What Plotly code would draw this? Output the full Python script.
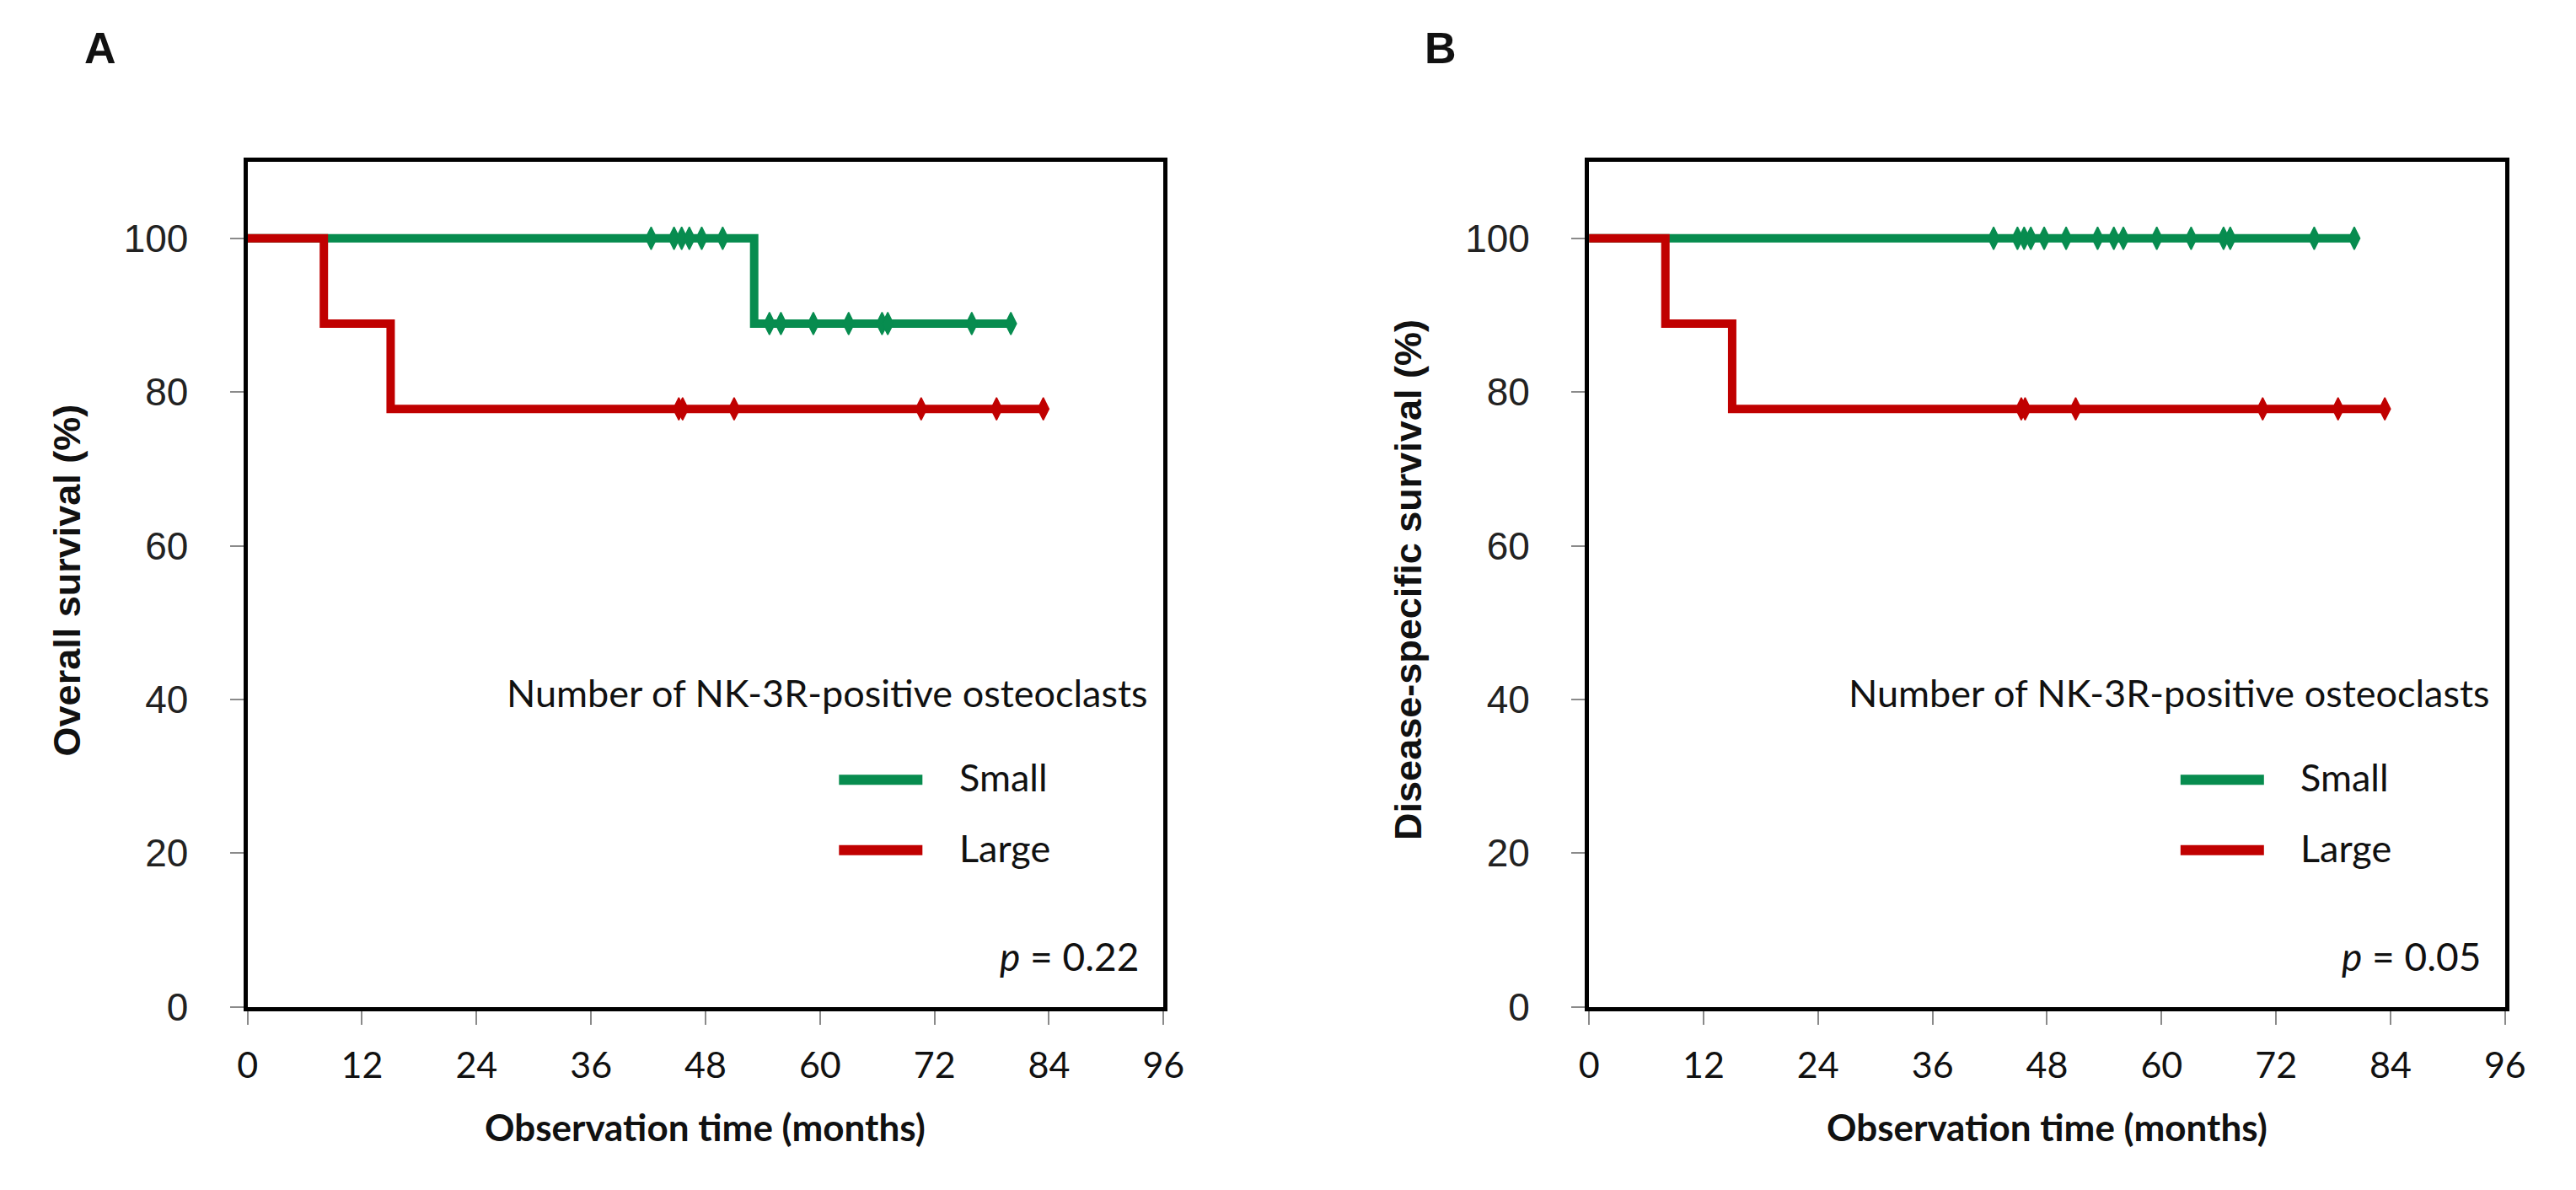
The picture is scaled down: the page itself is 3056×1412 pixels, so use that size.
import plotly.graph_objects as go

# ---------------- data ----------------
tick_x = [0, 12, 24, 36, 48, 60, 72, 84, 96]
tick_y = [0, 20, 40, 60, 80, 100]

# Panel A: overall survival
A_small_event_t = [53.1]
A_small_surv = [100, 88.9]
A_small_end = 80.0
A_small_cens = [42.3, 44.7, 45.5, 46.3, 47.6, 49.8,
                54.7, 55.9, 59.3, 63.0, 66.5, 67.1, 75.9, 80.0]

A_large_event_t = [8.0, 15.0]
A_large_surv = [100, 88.9, 77.8]
A_large_end = 83.4
A_large_cens = [45.2, 45.6, 51.0, 70.6, 78.5, 83.4]

# Panel B: disease-specific survival
B_small_event_t = []
B_small_surv = [100]
B_small_end = 80.2
B_small_cens = [42.4, 44.9, 45.6, 46.3, 47.7, 50.0, 53.3,
                55.0, 56.0, 59.5, 63.1, 66.5, 67.2, 76.0, 80.2]

B_large_event_t = [8.0, 15.0]
B_large_surv = [100, 88.9, 77.8]
B_large_end = 83.4
B_large_cens = [45.3, 45.7, 51.0, 70.6, 78.5, 83.4]

groups = ["Small", "Large"]
legend_title = "Number of NK-3R-positive osteoclasts"
p_values = ["0.22", "0.05"]
y_titles = ["Overall survival (%)", "Disease-specific survival (%)"]
x_title = "Observation time (months)"
panel_labels = ["A", "B"]

GREEN = "#078C4F"
RED = "#C00000"

CAL = "Lato"            # Calibri substitute
ARIAL = "Liberation Sans"

fig = go.Figure()


def step_xy(event_t, surv, end):
    xs = [0] + list(event_t) + [end]
    ys = list(surv) + [surv[-1]]
    return xs, ys


def surv_at(t, event_t, surv):
    s = surv[0]
    for i, et in enumerate(event_t):
        if t >= et:
            s = surv[i + 1]
    return s


def add_group(event_t, surv, end, cens, color, xa, ya, name):
    xs, ys = step_xy(event_t, surv, end)
    fig.add_trace(go.Scatter(x=xs, y=ys, mode="lines", line_shape="hv",
                             line=dict(color=color, width=10),
                             xaxis=xa, yaxis=ya, name=name, showlegend=False,
                             cliponaxis=False))
    fig.add_trace(go.Scatter(x=cens, y=[surv_at(t, event_t, surv) for t in cens],
                             mode="markers",
                             marker=dict(symbol="diamond-tall", size=19, color=color,
                                         line=dict(color=color, width=1.5)),
                             xaxis=xa, yaxis=ya, name=name + " censored",
                             showlegend=False, cliponaxis=False))


add_group(A_small_event_t, A_small_surv, A_small_end, A_small_cens, GREEN, "x", "y", "Small")
add_group(A_large_event_t, A_large_surv, A_large_end, A_large_cens, RED, "x", "y", "Large")
add_group(B_small_event_t, B_small_surv, B_small_end, B_small_cens, GREEN, "x2", "y2", "Small")
add_group(B_large_event_t, B_large_surv, B_large_end, B_large_cens, RED, "x2", "y2", "Large")

W, H = 3056, 1412
yb, yt = 1209, 187
xdomA = [277 / W, 1377 / W]
xdomB = [1888 / W, 2988 / W]
ydom = [1 - yb / H, 1 - yt / H]

axis_common = dict(showline=True, linecolor="black", linewidth=5, mirror=True,
                   showgrid=False, zeroline=False, ticks="outside", ticklen=16,
                   tickwidth=2, tickcolor="#8a8a8a")

xcfg = dict(axis_common, range=[0, 96], tickmode="array", tickvals=tick_x,
            ticktext=[str(v) for v in tick_x],
            tickfont=dict(family=CAL, size=43, color="#111"), ticklabelstandoff=12)
ycfg = dict(axis_common, range=[0, 110], tickmode="array", tickvals=tick_y,
            ticktext=[str(v) for v in tick_y],
            tickfont=dict(family=ARIAL, size=46, color="#222"), ticklabelstandoff=40)

fig.update_layout(
    width=W, height=H, autosize=False,
    margin=dict(l=0, r=0, t=0, b=0),
    paper_bgcolor="white", plot_bgcolor="white",
    showlegend=False,
    xaxis=dict(xcfg, domain=xdomA, anchor="y"),
    yaxis=dict(ycfg, domain=ydom, anchor="x"),
    xaxis2=dict(xcfg, domain=xdomB, anchor="y2"),
    yaxis2=dict(ycfg, domain=ydom, anchor="x2"),
)

annotations = []
shapes = []
panels = [("x", "y", xdomA), ("x2", "y2", xdomB)]
for i, (xa, ya, xd) in enumerate(panels):
    xr = xa + " domain"
    yr = ya + " domain"
    # legend title
    annotations.append(dict(xref=xr, yref=yr, x=0.985, y=0.372, xanchor="right",
                            yanchor="middle", showarrow=False, text=legend_title,
                            font=dict(family=CAL, size=45, color="#111")))
    # legend keys
    for g, col, yy in [(groups[0], GREEN, 0.2686), (groups[1], RED, 0.1853)]:
        shapes.append(dict(type="line", xref=xr, yref=yr, x0=0.6457, x1=0.7368,
                           y0=yy, y1=yy, line=dict(color=col, width=12)))
        annotations.append(dict(xref=xr, yref=yr, x=0.775, y=yy + 0.003,
                                xanchor="left", yanchor="middle", showarrow=False,
                                text=g, font=dict(family=CAL, size=45, color="#111")))
    # p value
    annotations.append(dict(xref=xr, yref=yr, x=0.975, y=0.06, xanchor="right",
                            yanchor="middle", showarrow=False,
                            text="<i>p</i> = " + p_values[i],
                            font=dict(family=CAL, size=46, color="#111")))
    # x title
    annotations.append(dict(xref=xr, yref="paper", x=0.5, y=1 - 1354 / H,
                            xanchor="center", yanchor="middle", showarrow=False,
                            text="<b>" + x_title + "</b>",
                            font=dict(family=CAL, size=44, color="#111")))
    # y title
    annotations.append(dict(xref="paper", yref=yr, x=(60 + i * 1610) / W, y=0.505,
                            xanchor="center", yanchor="middle", showarrow=False,
                            textangle=-90,
                            text="<b>" + y_titles[i] + "</b>",
                            font=dict(family=ARIAL, size=45, color="#111")))
    # panel label
    annotations.append(dict(xref="paper", yref="paper",
                            x=(100 + i * 1610) / W, y=1 - 50 / H,
                            xanchor="center", yanchor="middle", showarrow=False,
                            text="<b>" + panel_labels[i] + "</b>",
                            font=dict(family=ARIAL, size=52, color="#111")))

fig.update_layout(annotations=annotations, shapes=shapes)

fig.write_html("out.html")
